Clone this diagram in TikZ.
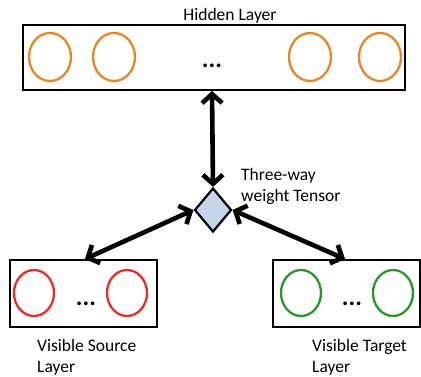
\documentclass[tikz,border=0pt]{standalone}
\usepackage{fontspec}
\setmainfont{Carlito}
\usetikzlibrary{arrows.meta,shapes.geometric}
\begin{document}
\begin{tikzpicture}[x=1pt,y=-1pt,
  layerbox/.style={draw=black,line width=2.6pt,fill=white},
  unit/.style={draw,line width=2.3pt,ellipse,minimum width=42pt,minimum height=48pt,inner sep=0pt},
  hunit/.style={unit,draw={rgb,255:red,230;green,135;blue,40}},
  sunit/.style={unit,draw={rgb,255:red,235;green,45;blue,40},minimum width=40pt,minimum height=46pt},
  tunit/.style={unit,draw={rgb,255:red,40;green,150;blue,40},minimum width=40pt,minimum height=46pt},
  dots/.style={font=\bfseries\fontsize{25}{25}\selectfont,inner sep=0pt},
  lbl/.style={font=\fontsize{17.5}{21}\selectfont,inner sep=0pt},
  link/.style={line width=4.6pt,{Straight Barb[length=9pt,width=20pt]}-{Straight Barb[length=9pt,width=20pt]}}
]
\useasboundingbox (0,0) rectangle (421,377);

% hidden layer
\node[layerbox,minimum width=382pt,minimum height=65pt,inner sep=0pt] (hid) at (214,57.5) {};
\node[hunit] (h1) at (50,57) {};
\node[hunit] (h2) at (114,57) {};
\node[hunit] (h3) at (310,57) {};
\node[hunit] (h4) at (380,57) {};
\node[dots] (hd) at (212,66) {...};
\node[lbl] (hl) at (230,16) {Hidden Layer};

% visible source layer
\node[layerbox,minimum width=147pt,minimum height=67pt,inner sep=0pt] (src) at (83.5,293.5) {};
\node[sunit] (s1) at (34,293) {};
\node[sunit] (s2) at (127,293) {};
\node[dots] (sd) at (86,304) {...};
\node[lbl,anchor=west,align=left] (sl) at (37,357) {Visible Source\\Layer};

% visible target layer
\node[layerbox,minimum width=147pt,minimum height=67pt,inner sep=0pt] (tgt) at (346.5,293.5) {};
\node[tunit] (t1) at (301,293) {};
\node[tunit] (t2) at (393,293) {};
\node[dots] (td) at (352,304) {...};
\node[lbl,anchor=west,align=left] (tl) at (312,357) {Visible Target\\Layer};

% tensor
\node[diamond,draw,line width=2.2pt,fill={rgb,255:red,197;green,213;blue,234},
  minimum width=37pt,minimum height=44pt,inner sep=0pt] (ten) at (213,210) {};
\node[lbl,anchor=west,align=left] (tt) at (241,186) {Three-way\\weight Tensor};

% connections
\coordinate (htop) at (212,91);
\coordinate (stop) at (85,259);
\coordinate (ttop) at (345,259);
\draw[link] (htop) -- (ten.north);
\draw[link] (ten.west) -- (stop);
\draw[link] (ten.east) -- (ttop);
\end{tikzpicture}
\end{document}
